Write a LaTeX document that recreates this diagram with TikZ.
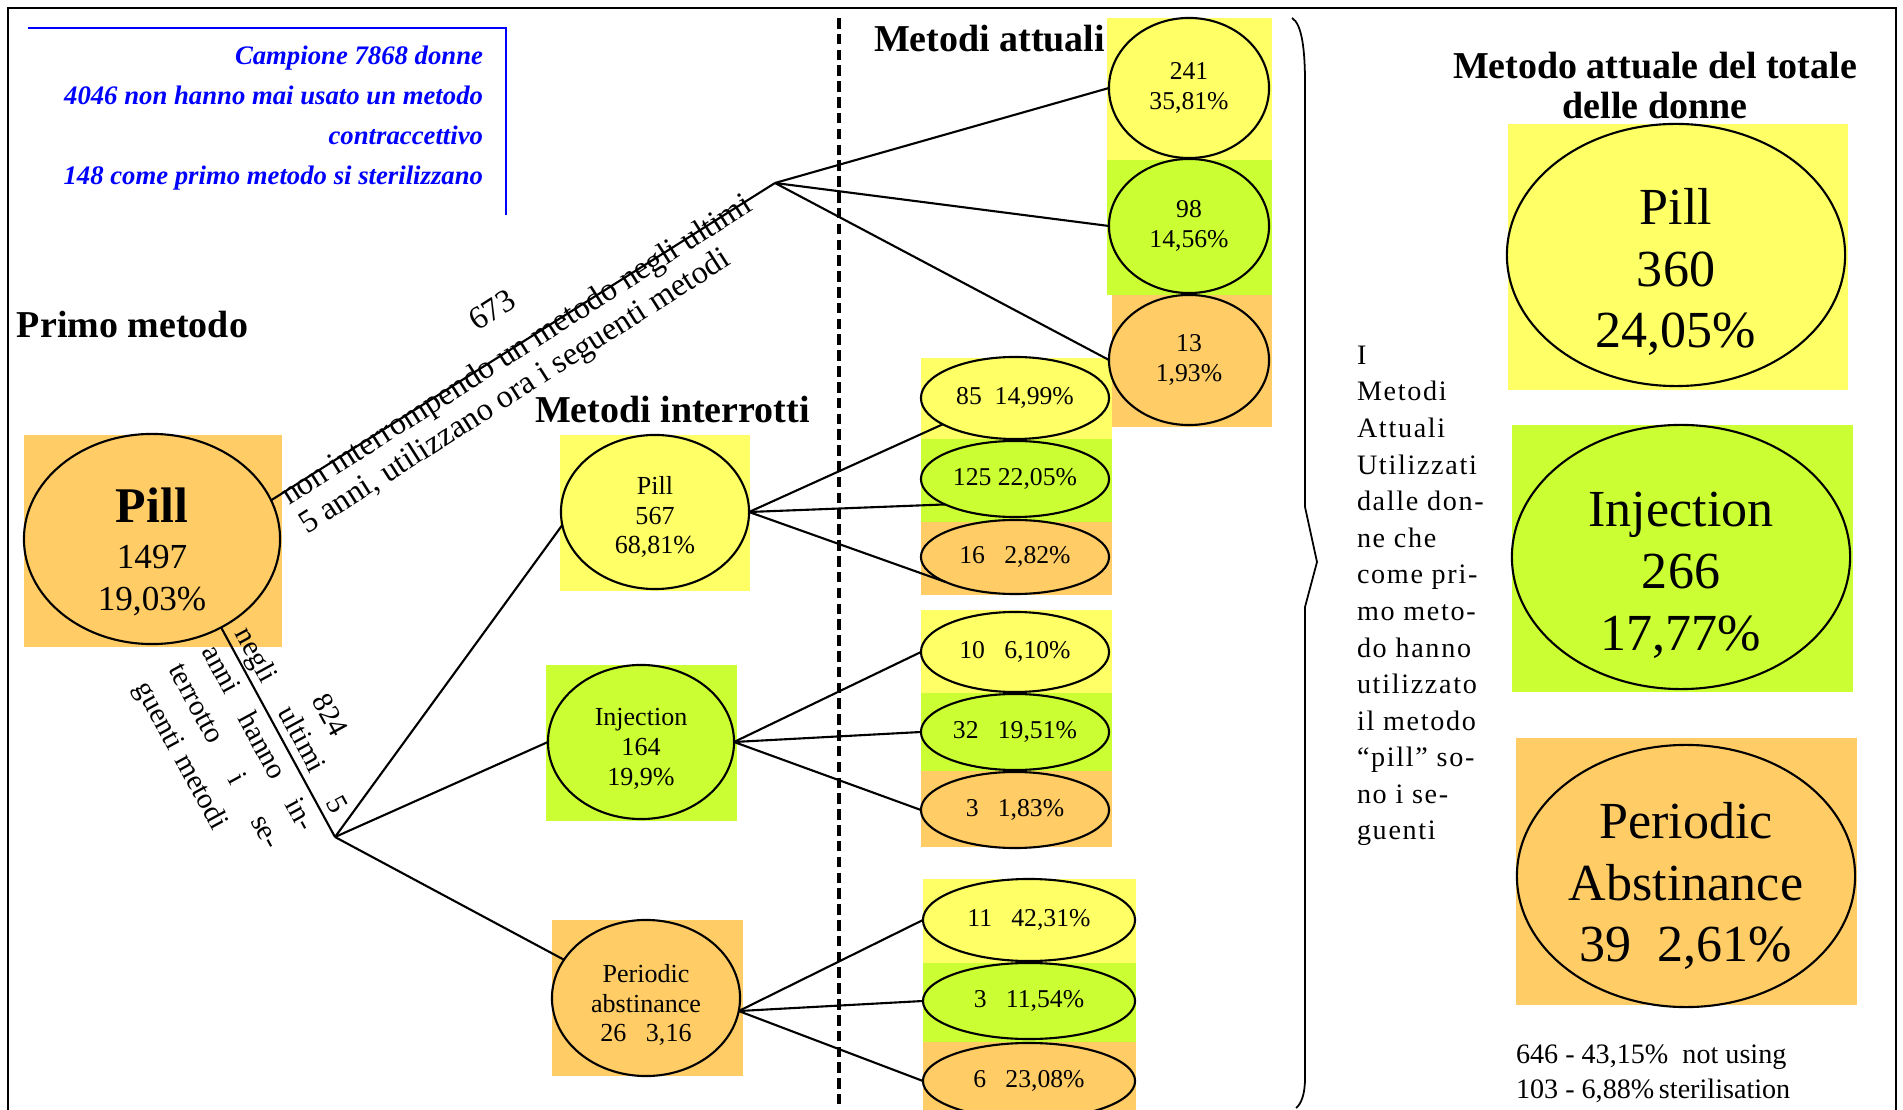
\documentclass[tikz,border=0pt]{standalone}
\usepackage{fontspec}
\setmainfont{Liberation Serif}
\usetikzlibrary{shapes.geometric}

\definecolor{giallo}{RGB}{255,255,102}
\definecolor{verde}{RGB}{204,255,51}
\definecolor{arancio}{RGB}{255,204,102}

\begin{document}
\begin{tikzpicture}[x=0.01cm, y=-0.01cm, semithick,
        every node/.style={inner sep=0pt, outer sep=0pt},
        ovale/.style={ellipse, draw, align=center},
        titolo/.style={anchor=base west, font=\fontsize{10.8}{12.2}\selectfont\bfseries},
        medio/.style={align=center, font=\fontsize{7.4}{8.5}\selectfont},
        piccolo/.style={font=\fontsize{7.3}{8.5}\selectfont},
        grande/.style={align=center, font=\fontsize{14.8}{17.6}\selectfont},
        diagTxt/.style={rotate=32.5, font=\fontsize{9.2}{11}\selectfont},
        lowTxt/.style={rotate=-61.5, font=\fontsize{8.3}{10.75}\selectfont}]
        \useasboundingbox (0,0) rectangle (1903,1110);

        % cornice e riquadro blu
        \draw[line width=0.8pt] (8,1110) -- (8,8) -- (1896,8) -- (1896,1110);
        \draw[blue, line width=0.6pt] (28,28) -- (506,28) -- (506,215);
        \node (campione) [anchor=north east, align=right, text=blue, font=\fontsize{7.6}{11.4}\selectfont\bfseries\itshape] at (483,46) {Campione 7868 donne\\4046 non hanno mai usato un metodo\\contraccettivo\\148 come primo metodo si sterilizzano};
        \draw[line width=0.9pt, dash pattern=on 3pt off 1.5pt] (839,18) -- (839,1104);

        % titoli
        \node (primo) [titolo] at (17,338) {Primo metodo};
        \node (interrotti) [titolo] at (535,423) {Metodi interrotti};
        \node (attuali) [titolo] at (874,52) {Metodi attuali};
        \node (totale) [anchor=north, align=center, font=\fontsize{10.8}{11.4}\selectfont\bfseries] at (1655,52) {Metodo attuale del totale\\delle donne};

        % sfondi
        \fill[arancio] (24,435) rectangle (282,647);
        \fill[giallo] (560,435) rectangle (750,591);
        \fill[verde] (546,665) rectangle (737,821);
        \fill[arancio] (552,920) rectangle (743,1076);
        \fill[giallo] (1107,18) rectangle (1272,160);
        \fill[verde] (1107,160) rectangle (1272,295);
        \fill[arancio] (1112,295) rectangle (1272,427);
        \fill[giallo] (921,358) rectangle (1112,439);
        \fill[verde] (921,439) rectangle (1112,522);
        \fill[arancio] (921,522) rectangle (1112,595);
        \fill[giallo] (921,610) rectangle (1112,693);
        \fill[verde] (921,693) rectangle (1112,771);
        \fill[arancio] (921,771) rectangle (1112,847);
        \fill[giallo] (923,879) rectangle (1136,963);
        \fill[verde] (923,963) rectangle (1136,1042);
        \fill[arancio] (923,1042) rectangle (1136,1110);
        \fill[giallo] (1508,124) rectangle (1848,390);
        \fill[verde] (1512,425) rectangle (1853,692);
        \fill[arancio] (1516,738) rectangle (1857,1005);

        % ovali
        \node (primoPill) [ovale, fill=arancio, minimum width=2.56cm, minimum height=2.10cm] at (152,539) {};
        \node (primoPillTxt) [align=center, font=\fontsize{10}{12}\selectfont] at ([yshift=-0.13cm]primoPill.center) {{\fontsize{14.2}{14}\selectfont\bfseries Pill}\\[1pt]1497\\19,03\%};

        \node (intPill) [ovale, fill=giallo, minimum width=1.88cm, minimum height=1.54cm] at (655,512) {};
        \node (intPillTxt) [medio] at ([yshift=-0.05cm]intPill.center) {Pill\\567\\68,81\%};
        \node (intInj) [ovale, fill=verde, minimum width=1.86cm, minimum height=1.54cm] at (641,742) {};
        \node (intInjTxt) [medio] at ([yshift=-0.07cm]intInj.center) {Injection\\164\\19,9\%};
        \node (intPer) [ovale, fill=arancio, minimum width=1.88cm, minimum height=1.56cm] at (646,998) {};
        \node (intPerTxt) [medio] at ([yshift=-0.07cm]intPer.center) {Periodic\\abstinance\\26~~~3,16};

        \node (att241) [ovale, piccolo, fill=giallo, minimum width=1.60cm, minimum height=1.40cm] at (1189,88) {241\\35,81\%};
        \node (att98) [ovale, piccolo, fill=verde, minimum width=1.60cm, minimum height=1.34cm] at (1189,226) {98\\14,56\%};
        \node (att13) [ovale, piccolo, fill=arancio, minimum width=1.60cm, minimum height=1.30cm] at (1189,360) {13\\1,93\%};

        \node (pil85) [ovale, piccolo, fill=giallo, minimum width=1.88cm, minimum height=0.82cm] at (1015,398) {85~~14,99\%};
        \node (pil125) [ovale, piccolo, fill=verde, minimum width=1.88cm, minimum height=0.76cm] at (1015,479) {125 22,05\%};
        \node (pil16) [ovale, piccolo, fill=arancio, minimum width=1.88cm, minimum height=0.74cm] at (1015,557) {16~~~2,82\%};

        \node (inj10) [ovale, piccolo, fill=giallo, minimum width=1.88cm, minimum height=0.80cm] at (1015,652) {10~~~6,10\%};
        \node (inj32) [ovale, piccolo, fill=verde, minimum width=1.88cm, minimum height=0.76cm] at (1015,732) {32~~~19,51\%};
        \node (inj3) [ovale, piccolo, fill=arancio, minimum width=1.88cm, minimum height=0.76cm] at (1015,810) {3~~~1,83\%};

        \node (per11) [ovale, piccolo, fill=giallo, minimum width=2.12cm, minimum height=0.82cm] at (1029,920) {11~~~42,31\%};
        \node (per3) [ovale, piccolo, fill=verde, minimum width=2.12cm, minimum height=0.76cm] at (1029,1001) {3~~~11,54\%};
        \node (per6) [ovale, piccolo, fill=arancio, minimum width=2.12cm, minimum height=0.76cm] at (1029,1081) {6~~~23,08\%};

        \node (totPill) [ovale, fill=giallo, minimum width=3.38cm, minimum height=2.62cm] at (1676,255) {};
        \node (totPillTxt) [grande] at ([yshift=-0.17cm]totPill.center) {Pill\\360\\24,05\%};
        \node (totInj) [ovale, fill=verde, minimum width=3.38cm, minimum height=2.64cm] at (1681,557) {};
        \node (totInjTxt) [grande] at ([yshift=-0.18cm]totInj.center) {Injection\\266\\17,77\%};
        \node (totPer) [ovale, fill=arancio, minimum width=3.38cm, minimum height=2.62cm] at (1686,876) {};
        \node (totPerTxt) [grande] at ([yshift=-0.10cm]totPer.center) {Periodic\\Abstinance\\39~~2,61\%};

        % rami
        \coordinate (forkTop) at (775,183);
        \coordinate (forkLow) at (335,837);
        \draw (primoPill.18) -- (forkTop);
        \draw (forkTop) -- (att241.west);
        \draw (forkTop) -- (att98.west);
        \draw (forkTop) -- (att13.west);
        \draw (primoPill.-52) -- (forkLow);
        \draw (forkLow) -- (intPill.188);
        \draw (forkLow) -- (intInj.west);
        \draw (forkLow) -- (intPer.155);
        \draw (intPill.east) -- (pil85.200);
        \draw (intPill.east) -- (pil125.200);
        \draw (intPill.east) -- (pil16.200);
        \draw (intInj.east) -- (inj10.west);
        \draw (intInj.east) -- (inj32.west);
        \draw (intInj.east) -- (inj3.west);
        \draw (intPer.-8) -- (per11.west);
        \draw (intPer.-8) -- (per3.west);
        \draw (intPer.-8) -- (per6.west);

        % scritte oblique
        \node (n673) [diagTxt] at (492,310) {673};
        \node (nonInt) [diagTxt, anchor=base west] at (289,506) {non interrompendo un metodo negli ultimi};
        \node (anniUt) [diagTxt, anchor=base west] at (307,535) {5 anni, utilizzano ora i seguenti metodi};
        \node (n824) [lowTxt] at (330,715) {824};
        \node (negli) [lowTxt, text width=2.06cm, align=left] at (240,748) {negli\hfill ultimi\hfill 5\\anni\hfill hanno\hfill in-\\terrotto\hfill i\hfill se-\\guenti metodi};

        % graffa e note
        \draw[line width=0.5pt] (1292,18) .. controls (1302,24) and (1305,50) .. (1305,83) -- (1305,507) -- (1317,562) -- (1305,607) -- (1305,1078) .. controls (1305,1095) and (1301,1104) .. (1296,1108);
        \node (nota) [anchor=north west, align=left, font=\fontsize{8}{10.4}\selectfont\addfontfeatures{LetterSpace=6}] at (1357,346) {I\\Metodi\\Attuali\\Utilizzati\\dalle don-\\ne che\\come pri-\\mo meto-\\do hanno\\utilizzato\\il metodo\\“pill” so-\\no i se-\\guenti};
        \node (resto) [anchor=north west, align=left, font=\fontsize{8}{10}\selectfont] at (1516,1045) {646 - 43,15\%~~not using\\103 - 6,88\%\,sterilisation};
\end{tikzpicture}
\end{document}
